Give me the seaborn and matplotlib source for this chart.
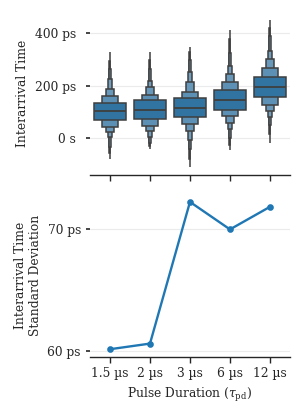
import matplotlib
matplotlib.use('Agg')
import matplotlib.pyplot as plt
import matplotlib.ticker as mticker
import numpy as np
import seaborn as sns

# Pulse durations (categories)
durations = ['1.5 µs', '2 µs', '3 µs', '6 µs', '12 µs']

# Letter values of the interarrival time per duration, in ps
# level 0 = central box, then outward
medians_ps = [104, 109, 116, 146, 195]
upper_ps = [
    [136, 161, 187, 226, 263, 295, 328],
    [144, 166, 195, 220, 263, 300, 330],
    [154, 178, 213, 254, 298, 330, 349],
    [183, 213, 245, 275, 324, 380, 413],
    [235, 267, 301, 334, 390, 420, 451],
]
lower_ps = [
    [70, 44, 23, 4, -32, -55, -79],
    [75, 48, 28, 6, -17, -30, -42],
    [80, 53, 27, -6, -40, -80, -111],
    [108, 83, 57, 34, 0, -25, -47],
    [157, 127, 102, 80, 50, 15, -19],
]

# Standard deviation of the interarrival time, in ps
std_ps = [60.14, 60.6, 72.2, 69.95, 71.8]

# y tick values (ps)
top_ticks_ps = [0, 200, 400]
bottom_ticks_ps = [60, 70]

sns.set_theme(context='paper', style='ticks')
plt.rcParams['font.family'] = ['DejaVu Serif']
plt.rcParams['mathtext.fontset'] = 'dejavuserif'
plt.rcParams['font.size'] = 8.8
plt.rcParams['axes.labelsize'] = 8.8
plt.rcParams['xtick.labelsize'] = 8.8
plt.rcParams['ytick.labelsize'] = 8.8

fig, (ax1, ax2) = plt.subplots(2, 1, figsize=(3.03, 4.2), dpi=100)
fig.subplots_adjust(left=0.297, right=0.957, top=0.97, bottom=0.151, hspace=0.123)

pos = np.arange(len(durations))
base = sns.desaturate('#1f77b4', 0.75)
ramp = sns.blend_palette([base, 'white'], 20)
level_colors = [ramp[i] for i in [0, 4, 5, 6, 7, 8, 9]]
edge = '#3f3f3f'

n_levels = len(upper_ps[0])
upper = np.array(upper_ps) * 1e-12
lower = np.array(lower_ps) * 1e-12
for lvl in range(n_levels - 1, -1, -1):
    bars = ax1.bar(pos, upper[:, lvl] - lower[:, lvl], bottom=lower[:, lvl],
                   width=0.8 * 0.5 ** lvl, color=level_colors[lvl],
                   edgecolor=edge, linewidth=1.1, zorder=2)
    for b in bars:
        b.sticky_edges.y.clear()
ax1.hlines(np.array(medians_ps) * 1e-12, pos - 0.4, pos + 0.4,
           color=edge, linewidth=1.3, zorder=3)

ax1.set_xlim(-0.5, len(durations) - 0.5)
ax1.set_xticks(pos)
ax1.set_xticklabels([])
ax1.set_yticks(np.array(top_ticks_ps) * 1e-12)
ax1.yaxis.set_major_formatter(mticker.EngFormatter(unit='s'))
ax1.set_ylabel('Interarrival Time')

sns.pointplot(x=durations, y=np.array(std_ps) * 1e-12, ax=ax2,
              color='#1f77b4', markersize=3.5, linewidth=1.7)
ax2.set_xlim(-0.5, len(durations) - 0.5)
ax2.set_yticks(np.array(bottom_ticks_ps) * 1e-12)
ax2.yaxis.set_major_formatter(mticker.EngFormatter(unit='s'))
ax2.set_ylabel('Interarrival Time\nStandard Deviation')
ax2.set_xlabel(r'Pulse Duration ($\tau_{\mathrm{pd}}$)')

for ax in (ax1, ax2):
    ax.yaxis.grid(True, color='.92', linewidth=0.8)
    ax.xaxis.grid(False)
    ax.set_axisbelow(True)
    sns.despine(ax=ax, left=True)
    ax.tick_params(axis='y', length=3, width=1.2)
    ax.tick_params(axis='x', length=4, width=1.0)
ax1.tick_params(axis='y', pad=7)

fig.savefig('out.png', dpi=100)
